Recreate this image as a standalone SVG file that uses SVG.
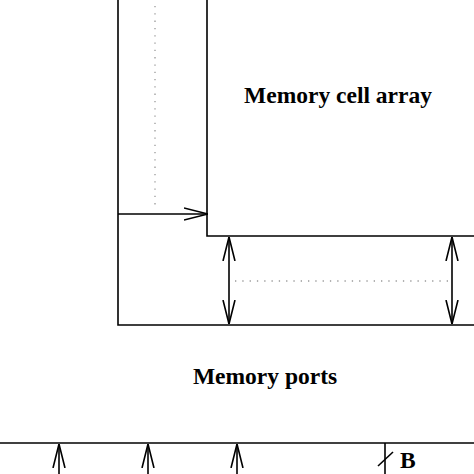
<svg xmlns="http://www.w3.org/2000/svg" width="474" height="474" viewBox="0 0 474 474">
<defs>
<style>
.ln{fill:none;stroke:#000;stroke-width:1.6}
.dot{fill:none;stroke:#999;stroke-width:1.3;stroke-dasharray:1.3 6}
.lbl{font-family:"Liberation Serif","Times New Roman",serif;font-weight:bold;font-size:23.5px;fill:#000}
</style>
<marker id="ah" viewBox="0 0 24 14" refX="24" refY="7" markerWidth="24" markerHeight="14" markerUnits="userSpaceOnUse" orient="auto-start-reverse">
<path d="M0,1 L24,7 L0,13" fill="none" stroke="#000" stroke-width="1.6"/>
</marker>
</defs>
<rect width="474" height="474" fill="#fff"/>
<g id="cell-array">
<path class="ln" d="M207,0 V236 H474"/>
<text class="lbl" x="338" y="103" text-anchor="middle">Memory cell array</text>
</g>
<g id="ports">
<path class="ln" d="M118,0 V325 H474"/>
<text class="lbl" x="265" y="384" text-anchor="middle">Memory ports</text>
</g>
<g id="bus">
<path class="ln" d="M0,443 H474"/>
<text class="lbl" x="400" y="468" font-size="19">B</text>
</g>
<g id="connectors">
<line class="ln" x1="118" y1="214" x2="208" y2="214" marker-end="url(#ah)"/>
<line class="dot" x1="155" y1="6" x2="155" y2="210"/>
<line class="ln" x1="229" y1="237" x2="229" y2="324" marker-start="url(#ah)" marker-end="url(#ah)"/>
<line class="ln" x1="452" y1="237" x2="452" y2="324" marker-start="url(#ah)" marker-end="url(#ah)"/>
<line class="dot" x1="235" y1="281" x2="448" y2="281"/>
<line class="ln" x1="59" y1="474" x2="59" y2="444" marker-end="url(#ah)"/>
<line class="ln" x1="148" y1="474" x2="148" y2="444" marker-end="url(#ah)"/>
<line class="ln" x1="237" y1="474" x2="237" y2="444" marker-end="url(#ah)"/>
<line class="ln" x1="385" y1="443" x2="385" y2="474"/>
<line class="ln" x1="378" y1="466" x2="393" y2="452"/>
</g>
</svg>
